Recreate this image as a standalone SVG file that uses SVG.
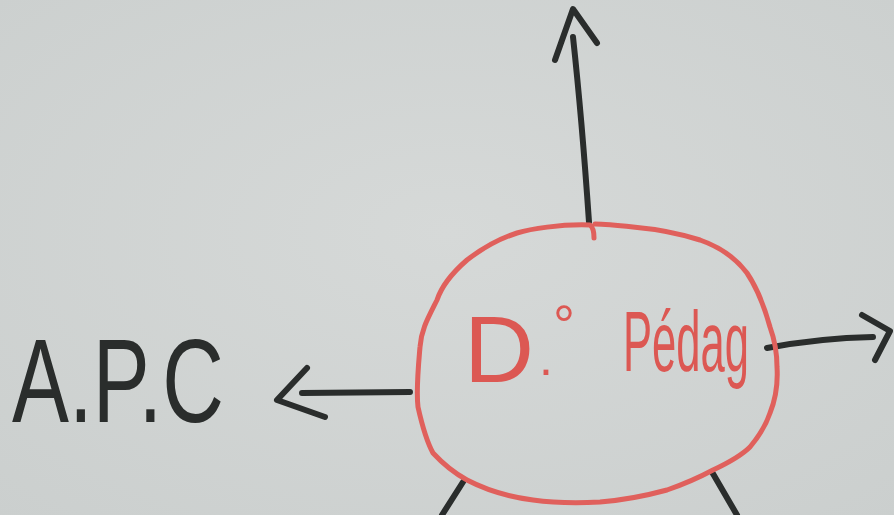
<svg xmlns="http://www.w3.org/2000/svg" width="894" height="515" viewBox="0 0 894 515">
<defs>
<radialGradient id="bg" cx="0.5" cy="0.45" r="0.75">
<stop offset="0" stop-color="#d6d9d8"/>
<stop offset="1" stop-color="#cbcfce"/>
</radialGradient>
<style>
.ink{fill:none;stroke:#2a2d2c;stroke-width:6;stroke-linecap:round;stroke-linejoin:round}
.red{fill:none;stroke:#e0605c;stroke-width:5;stroke-linecap:round;stroke-linejoin:round}
.blk{fill:#2a2d2c;font-family:"Liberation Sans","DejaVu Sans",sans-serif}
.rt{fill:#dc5853;font-family:"Liberation Sans","DejaVu Sans",sans-serif}
</style>
</defs>
<rect width="894" height="515" fill="url(#bg)"/>
<g id="connectors">
<path class="ink" d="M589,222 Q582,120 573,37"/>
<path class="ink" d="M555,60 L573,9 L597,43"/>
<path class="ink" d="M767,348 Q820,338 873,337"/>
<path class="ink" d="M862,315 L890,331 L875,360"/>
<path class="ink" d="M410,392 L302,393"/>
<path class="ink" d="M307,368 L277,400 L325,417"/>
<path class="ink" d="M463,482 L442,515"/>
<path class="ink" d="M712,472 L737,515"/>
</g>
<g id="center">
<path class="red" d="M594,238 Q594,228 590,225 C560,224 530,229 517,233 C495,240 480,250 467,260 C452,273 442,285 437,300 C428,318 421,330 420,347 C418,370 416,390 418,407 C422,425 427,442 433,453 C445,466 456,474 467,480 C490,492 510,497 533,500 C555,503 580,503 600,502 C625,500 645,496 667,490 C690,482 700,477 713,470 C730,462 742,455 750,447 C760,435 766,425 770,413 C776,398 778,383 777,367 C777,350 774,338 770,327 C764,305 757,288 747,273 C735,257 720,247 700,240 C675,232 655,229 633,227 C615,225 602,224 595,224"/>
<text class="rt" font-size="95" x="464" y="382"><tspan textLength="70" lengthAdjust="spacingAndGlyphs">D</tspan><tspan x="539" y="375" font-size="50">.</tspan><tspan x="553" y="344" font-size="55">°</tspan></text>
<text class="rt" font-size="86" x="623" y="371" textLength="126" lengthAdjust="spacingAndGlyphs">Pédag</text>
</g>
<g id="apc">
<text class="blk" font-size="118" x="12" y="422" textLength="212" lengthAdjust="spacingAndGlyphs">A.P.C</text>
</g>
</svg>
